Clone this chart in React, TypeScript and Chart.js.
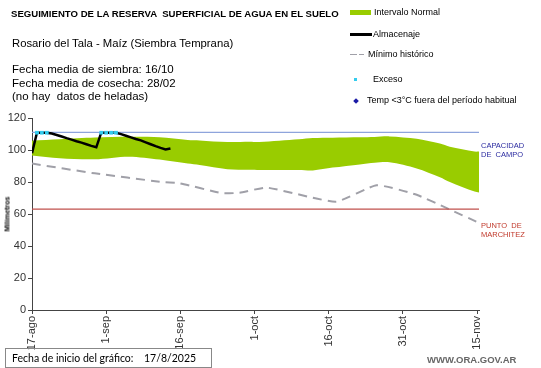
import React, { useEffect, useRef } from "react";
import { Chart, registerables } from "chart.js";

Chart.register(...registerables);

const TICK_DAYS = [0, 15, 30, 45, 60, 75, 90];
const TICK_LABELS = ["17-ago", "1-sep", "16-sep", "1-oct", "16-oct", "31-oct", "15-nov"];

const ALM_DAYS = [0, 1, 2, 3, 4, 5, 6, 7, 8, 9, 10, 11, 12, 13, 14, 15, 16, 17, 18, 19, 20, 21, 22, 23, 24, 25, 26, 27, 28];
const ALM_VALUES = [98, 110.8, 110.8, 110.8, 110.3, 109.4, 108.4, 107.4, 106.5, 105.5, 104.6, 103.6, 102.6, 101.7, 110.8, 110.8, 110.8, 110.8, 109.9, 108.9, 107.9, 106.9, 106.0, 104.8, 103.6, 102.4, 101.3, 100.4, 101.0];

const EXC_DAYS = [1, 2, 3, 8, 14, 15, 16, 17];
const EXC_VALUES = [110.8, 110.8, 110.8, null, 110.8, 110.8, 110.8, 110.8];

const BAND_DAYS = [0, 5.6, 12.7, 19.6, 25.8, 31.5, 33.9, 39.5, 44, 46, 54, 56.8, 60.8, 66.3, 69.3, 72.3, 77.8, 82.5, 84.5, 89.5, 90.4];
const BAND_UPPER = [105.8, 106.7, 107.8, 108.3, 108, 106.3, 106, 105, 105.2, 105, 106.7, 107.5, 107.7, 108, 108.2, 108.5, 107, 104, 102, 99, 99];
const BAND_LOWER = [96.5, 94.8, 94.2, 95.8, 94, 91.5, 90.6, 88, 87.6, 87.5, 87.5, 87.2, 89, 91, 92, 92.3, 88.5, 83, 80, 74, 73.5];

const MIN_DAYS = [0, 12.7, 25.8, 29.9, 38.4, 42, 47.5, 61.4, 69.7, 77.8, 84, 90.4];
const MIN_VALUES = [91.5, 85.4, 80.2, 79.2, 73, 73.3, 76.5, 67.7, 78, 72, 63.5, 54.5];

const LIMIT_DAYS = [0, 90.4];
const CAPACIDAD = 111;
const MARCHITEZ = 63;

const pts = (xs: number[], ys: (number | null)[]) => xs.map((x, i) => ({ x, y: ys[i] }));

const FONT = 'Arial, "Liberation Sans", sans-serif';

function Txt(props: { x: number; y: number; size: number; bold?: boolean; color?: string; children: React.ReactNode; family?: string }) {
  const lh = props.size * 1.2;
  return (
    <div
      style={{
        position: "absolute",
        left: props.x,
        top: props.y - lh / 2,
        fontSize: props.size,
        lineHeight: lh + "px",
        fontWeight: props.bold ? "bold" : "normal",
        color: props.color || "#000",
        fontFamily: props.family || FONT,
        whiteSpace: "pre",
      }}
    >
      {props.children}
    </div>
  );
}

export default function App() {
  const ref = useRef<HTMLCanvasElement>(null);
  useEffect(() => {
    if (!ref.current) return;
    const chart = new Chart(ref.current, {
      type: "line",
      data: {
        datasets: [
          {
            label: "Exceso",
            data: pts(EXC_DAYS, EXC_VALUES),
            borderColor: "#33ccee",
            backgroundColor: "#33ccee",
            borderWidth: 2,
            borderDash: [2, 2],
            pointRadius: 1.2,
            pointStyle: "rect",
            spanGaps: false,
            fill: false,
          },
          {
            label: "Almacenaje",
            data: pts(ALM_DAYS, ALM_VALUES),
            borderColor: "#000",
            borderWidth: 2.5,
            pointRadius: 0,
            fill: false,
          },
          {
            label: "Capacidad",
            data: pts(LIMIT_DAYS, [CAPACIDAD, CAPACIDAD]),
            borderColor: "#8ea4dc",
            borderWidth: 1.2,
            pointRadius: 0,
            fill: false,
          },
          {
            label: "Marchitez",
            data: pts(LIMIT_DAYS, [MARCHITEZ, MARCHITEZ]),
            borderColor: "#c0504d",
            borderWidth: 1.2,
            pointRadius: 0,
            fill: false,
          },
          {
            label: "Mínimo histórico",
            data: pts(MIN_DAYS, MIN_VALUES),
            borderColor: "#a0a0a8",
            borderWidth: 2,
            borderDash: [9, 6],
            pointRadius: 0,
            tension: 0.15,
            fill: false,
          },
          {
            label: "Intervalo Normal sup",
            data: pts(BAND_DAYS, BAND_UPPER),
            borderWidth: 0,
            borderColor: "rgba(0,0,0,0)",
            backgroundColor: "#99cc00",
            pointRadius: 0,
            tension: 0.3,
            fill: "+1",
          },
          {
            label: "Intervalo Normal inf",
            data: pts(BAND_DAYS, BAND_LOWER),
            borderWidth: 0,
            borderColor: "rgba(0,0,0,0)",
            pointRadius: 0,
            tension: 0.3,
            fill: false,
          },
        ],
      },
      options: {
        animation: false,
        responsive: false,
        devicePixelRatio: 1,
        layout: { padding: { top: 118, right: 62, left: 0, bottom: 0 } },
        plugins: { legend: { display: false }, tooltip: { enabled: false } },
        scales: {
          x: {
            type: "linear",
            min: 0,
            max: 90.4,
            afterBuildTicks: (s: any) => {
              s.ticks = TICK_DAYS.map((v) => ({ value: v }));
            },
            afterFit: (s: any) => {
              s.height = 58;
            },
            ticks: {
              autoSkip: false,
              maxRotation: 90,
              minRotation: 90,
              padding: 2,
              color: "#333",
              font: { family: FONT, size: 11 },
              callback: (v: any) => {
                const i = TICK_DAYS.indexOf(Number(v));
                return i >= 0 ? TICK_LABELS[i] : "";
              },
            },
            grid: { display: true, drawOnChartArea: false, drawTicks: true, tickLength: 4, color: "#444" },
            border: { color: "#444", width: 1 },
          },
          y: {
            min: 0,
            max: 120,
            afterFit: (s: any) => {
              s.width = 32;
            },
            ticks: { stepSize: 20, color: "#333", padding: 2, font: { family: FONT, size: 11 } },
            grid: { display: true, drawOnChartArea: false, drawTicks: true, tickLength: 4, color: "#444" },
            border: { color: "#444", width: 1 },
          },
        },
      },
    } as any);
    return () => chart.destroy();
  }, []);

  return (
    <div style={{ position: "fixed", left: 0, top: 0, width: 541, height: 368, background: "#fff", overflow: "hidden" }}>
      <canvas ref={ref} width={541} height={368} style={{ position: "absolute", left: 0, top: 0, display: "block" }} />
      <Txt x={11} y={14} size={9.6} bold>SEGUIMIENTO DE LA RESERVA  SUPERFICIAL DE AGUA EN EL SUELO</Txt>
      <Txt x={12} y={44} size={11.3}>Rosario del Tala - Maíz (Siembra Temprana)</Txt>
      <Txt x={12} y={70} size={11.5}>Fecha media de siembra: 16/10</Txt>
      <Txt x={12} y={83.5} size={11.5}>Fecha media de cosecha: 28/02</Txt>
      <Txt x={12} y={97} size={11.5}>(no hay  datos de heladas)</Txt>

      <div style={{ position: "absolute", left: 350, top: 10, width: 21, height: 5, background: "#99cc00" }} />
      <Txt x={374} y={12} size={9}>Intervalo Normal</Txt>
      <div style={{ position: "absolute", left: 350, top: 33, width: 22, height: 2.5, background: "#000" }} />
      <Txt x={373} y={34} size={9}>Almacenaje</Txt>
      <div style={{ position: "absolute", left: 350, top: 53.5, width: 7, height: 1.5, background: "#a0a0a8" }} />
      <div style={{ position: "absolute", left: 359, top: 53.5, width: 5, height: 1.5, background: "#a0a0a8" }} />
      <Txt x={368} y={54} size={9}>Mínimo histórico</Txt>
      <div style={{ position: "absolute", left: 354, top: 78, width: 3, height: 3, background: "#33ccee" }} />
      <Txt x={373} y={79} size={9}>Exceso</Txt>
      <div style={{ position: "absolute", left: 353.5, top: 98.5, width: 4, height: 4, background: "#1a1aa6", transform: "rotate(45deg)" }} />
      <Txt x={367} y={100} size={9}>Temp &lt;3°C fuera del período habitual</Txt>

      <Txt x={481} y={145} size={7.5} color="#2b2ba0">CAPACIDAD</Txt>
      <Txt x={481} y={154} size={7.5} color="#2b2ba0">DE  CAMPO</Txt>
      <Txt x={481} y={225} size={7.5} color="#c0392b">PUNTO  DE</Txt>
      <Txt x={481} y={234} size={7.5} color="#c0392b">MARCHITEZ</Txt>

      <div
        style={{
          position: "absolute",
          left: 7,
          top: 214,
          transform: "translate(-50%, -50%) rotate(-90deg)",
          fontSize: 7,
          fontWeight: "bold",
          fontFamily: FONT,
          color: "#000",
          whiteSpace: "pre",
        }}
      >
        Milímetros
      </div>

      <div style={{ position: "absolute", left: 5, top: 348, width: 207, height: 20, border: "1px solid #888", boxSizing: "border-box" }} />
      <Txt x={12} y={358} size={10.5} family='"Lato", Arial, sans-serif'>Fecha de inicio del gráfico:</Txt>
      <Txt x={144} y={358} size={10.5} family='"Lato", Arial, sans-serif'>17/8/2025</Txt>
      <Txt x={427} y={360} size={9.5} bold color="#666">WWW.ORA.GOV.AR</Txt>
    </div>
  );
}
